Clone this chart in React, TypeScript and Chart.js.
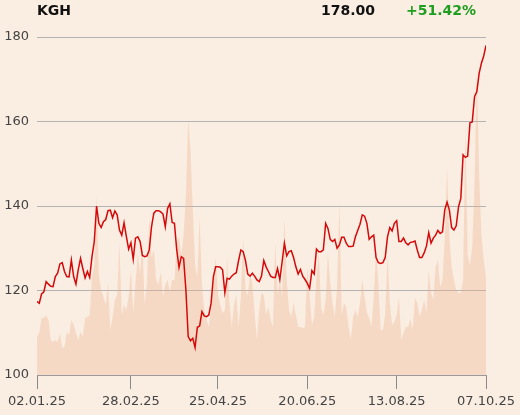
import React, { useEffect, useRef } from "react";
import { Chart, registerables } from "chart.js";

Chart.register(...registerables);

const ticker = "KGH";
const lastPrice = "178.00";
const changePct = "+51.42%";

const prices: number[] = [
  117.4, 117.0, 119.2, 119.7, 122.1, 121.5, 121.0, 120.9, 123.3, 124.1,
  126.3, 126.6, 124.5, 123.3, 123.2, 127.2, 123.3, 121.5, 124.9, 127.6,
  125.2, 123.0, 124.5, 123.1, 128.0, 131.6, 140.0, 135.9, 134.9, 136.3,
  136.8, 138.9, 139.0, 137.2, 138.8, 137.9, 134.3, 133.1, 136.0, 132.8,
  129.8, 131.3, 127.4, 132.4, 132.7, 131.6, 128.3, 128.0, 128.2, 129.6,
  135.1, 138.3, 138.9, 138.9, 138.6, 138.1, 135.1, 139.4, 140.5, 136.1,
  135.9, 129.6, 125.5, 128.0, 127.6, 120.1, 109.1, 108.1, 108.7, 106.5,
  111.3, 111.6, 115.0, 114.0, 113.8, 114.2, 117.0, 123.3, 125.6, 125.6,
  125.5, 124.9, 119.5, 122.9, 122.7, 123.4, 123.9, 124.2, 127.1, 129.6,
  129.2, 127.1, 123.9, 123.4, 124.1, 123.4, 122.5, 122.1, 123.4, 127.1,
  125.6, 124.5, 123.4, 123.1, 123.1, 125.2, 122.6, 126.8, 131.2, 128.2,
  129.2, 129.4, 127.8, 125.6, 123.9, 125.0, 123.4, 122.6, 121.7, 120.5,
  124.7, 123.9, 129.8, 129.2, 129.2, 129.6, 135.9, 134.7, 132.1, 131.6,
  132.1, 130.0, 130.8, 132.6, 132.6, 131.2, 130.4, 130.4, 130.5, 132.7,
  134.2, 135.7, 137.9, 137.6, 135.9, 132.1, 132.7, 133.1, 127.8, 126.6,
  126.4, 126.6, 127.8, 132.7, 134.9, 134.1, 135.9, 136.5, 131.6, 131.6,
  132.4, 131.3, 130.8, 131.4, 131.5, 131.7, 129.6, 127.8, 127.8, 128.9,
  130.5, 133.7, 131.2, 132.4, 133.1, 134.2, 133.5, 133.9, 139.1, 140.9,
  139.1, 134.9, 134.3, 135.3, 139.8, 141.8, 152.1, 151.5, 151.8, 159.7,
  159.9, 165.9, 167.1, 171.4, 173.8, 175.5, 178.0,
];

const volumes: number[] = [
  38, 42, 57, 57, 60, 55, 35, 33, 35, 33,
  42, 27, 28, 43, 40, 55, 50, 42, 35, 43,
  38, 57, 58, 60, 97, 110, 179, 100, 85, 78,
  70, 92, 45, 58, 75, 80, 132, 60, 70, 65,
  78, 105, 62, 92, 122, 102, 132, 70, 92, 157,
  118, 125, 95, 90, 103, 78, 90, 95, 83, 95,
  95, 132, 138, 120, 140, 180, 257, 225, 165, 110,
  98, 158, 90, 65, 55, 48, 65, 92, 118, 80,
  70, 62, 65, 117, 72, 48, 70, 80, 48, 78,
  137, 85, 80, 100, 92, 62, 35, 65, 82, 80,
  60, 68, 55, 48, 132, 80, 95, 78, 157, 95,
  65, 58, 72, 60, 48, 48, 47, 48, 108, 80,
  50, 58, 98, 122, 68, 60, 75, 122, 92, 72,
  58, 88, 173, 60, 72, 68, 48, 35, 58, 65,
  58, 72, 95, 78, 62, 57, 48, 78, 122, 92,
  45, 45, 60, 120, 72, 50, 53, 60, 78, 35,
  42, 48, 48, 56, 45, 77, 72, 58, 65, 75,
  62, 105, 82, 75, 108, 115, 88, 95, 135, 207,
  138, 108, 95, 85, 82, 82, 95, 248, 120, 110,
  128, 192, 303, 200, 140, 115, 97,
];

const tickIndices = [0, 41, 79, 118, 157, 196];
const tickLabels = ["02.01.25", "28.02.25", "25.04.25", "20.06.25", "13.08.25", "07.10.25"];
const yMin = 100;
const yMax = 180;
const yStep = 20;
const volumeMax = 338;

const BG = "#FAEDE2";
const FONT = "'DejaVu Sans', sans-serif";

export default function App() {
  const ref = useRef<HTMLCanvasElement | null>(null);

  useEffect(() => {
    if (!ref.current) return;
    const chart = new Chart(ref.current, {
      type: "line",
      data: {
        datasets: [
          {
            label: "Kurs",
            data: prices.map((v, i) => ({ x: i, y: v })),
            borderColor: "#d40a0a",
            borderWidth: 1.5,
            pointRadius: 0,
            tension: 0,
            fill: false,
            yAxisID: "y",
            order: 0,
          },
          {
            label: "Wolumen",
            data: volumes.map((v, i) => ({ x: i, y: v })),
            borderWidth: 0,
            borderColor: "rgba(0,0,0,0)",
            backgroundColor: "rgba(240,174,135,0.32)",
            pointRadius: 0,
            tension: 0,
            fill: "origin",
            yAxisID: "v",
            order: 1,
          },
        ],
      },
      options: {
        responsive: false,
        animation: false,
        maintainAspectRatio: false,
        layout: { padding: { top: 37, right: 34, left: 0, bottom: 0 } },
        plugins: {
          legend: { display: false },
          tooltip: { enabled: false },
          title: { display: false },
        },
        scales: {
          x: {
            type: "linear",
            min: 0,
            max: prices.length - 1,
            afterBuildTicks: (scale: any) => {
              scale.ticks = tickIndices.map((v) => ({ value: v }));
            },
            afterFit: (scale: any) => {
              scale.height = 40;
            },
            ticks: {
              autoSkip: false,
              maxRotation: 0,
              padding: 5,
              color: "#444",
              font: { family: FONT, size: 13 },
              callback: (v: any) => {
                const k = tickIndices.indexOf(Number(v));
                return k >= 0 ? tickLabels[k] : "";
              },
            },
            grid: {
              display: true,
              drawOnChartArea: false,
              drawTicks: true,
              tickLength: 14,
              color: "#8a8a8a",
            },
            border: { display: true, color: "#9a9a9a" },
          },
          y: {
            position: "left",
            min: yMin,
            max: yMax,
            afterFit: (scale: any) => {
              scale.width = 37;
            },
            ticks: {
              stepSize: yStep,
              padding: 8,
              color: "#444",
              font: { family: FONT, size: 13 },
            },
            grid: { color: "#b3b3b3", drawTicks: false },
            border: { display: false },
          },
          v: {
            display: false,
            min: 0,
            max: volumeMax,
          },
        },
      },
    });
    return () => chart.destroy();
  }, []);

  const head: React.CSSProperties = {
    position: "absolute",
    top: 2,
    fontFamily: FONT,
    fontWeight: "bold",
    fontSize: 14,
    lineHeight: "16px",
    whiteSpace: "nowrap",
  };

  return (
    <div
      style={{
        position: "fixed",
        left: 0,
        top: 0,
        width: 520,
        height: 415,
        background: BG,
        overflow: "hidden",
      }}
    >
      <canvas ref={ref} width={520} height={415} style={{ position: "absolute", left: 0, top: 0 }} />
      <div style={{ ...head, left: 37, color: "#111" }}>{ticker}</div>
      <div style={{ ...head, right: 520 - 375, color: "#111" }}>{lastPrice}</div>
      <div style={{ ...head, left: 406, color: "#1e9e1e" }}>{changePct}</div>
    </div>
  );
}
